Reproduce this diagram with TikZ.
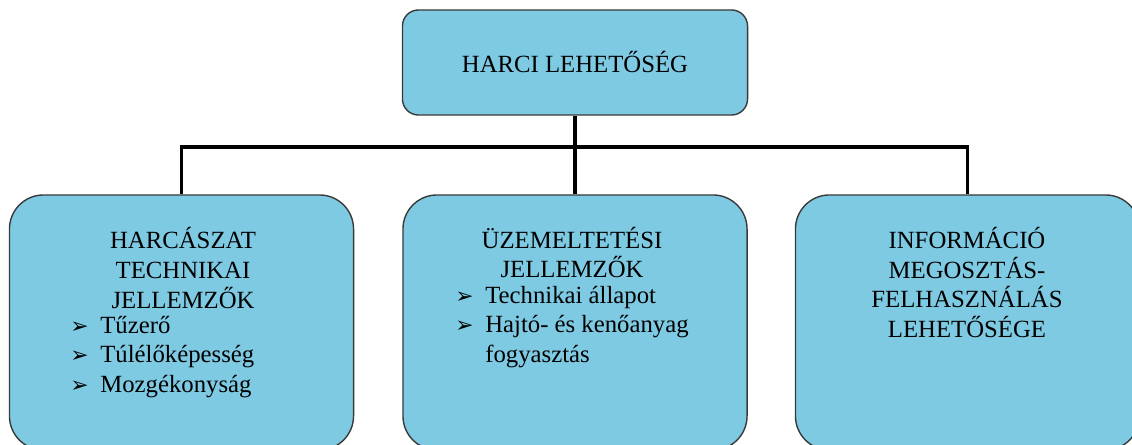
\documentclass[tikz,border=0pt]{standalone}
\usepackage{fontspec}
\setmainfont{Liberation Serif}
\newfontfamily\arrowfont{DejaVu Sans}
\definecolor{boxblue}{HTML}{7FCAE3}
\definecolor{boxline}{HTML}{3A3A3A}
\newcommand{\arrbul}{\makebox[0.75cm][l]{\arrowfont\fontsize{15.5}{15.5}\selectfont ➢}}
\begin{document}
\begin{tikzpicture}[x=0.025cm,y=-0.025cm,
  txt/.style={font=\fontsize{17.6}{21.3}\selectfont, align=center, inner sep=0pt},
  topbox/.style={draw=boxline, line width=1pt, fill=boxblue, rounded corners=0.4cm,
    minimum width=8.625cm, minimum height=2.625cm, inner sep=0pt, txt},
  subbox/.style={draw=boxline, line width=1pt, fill=boxblue, rounded corners=0.85cm,
    minimum width=8.6cm, minimum height=6.375cm, inner sep=0pt},
  conn/.style={line width=2.8pt, black}]
\useasboundingbox (0,0) rectangle (1132,445);
\clip (0,0) rectangle (1132,445);
% boxes
\node[topbox] (harci) at (575,62.5) {HARCI LEHETŐSÉG};
\node[subbox] (harcaszat) at (181.5,322.5) {};
\node[subbox] (uzem) at (575,322.5) {};
\node[subbox] (info) at (967.5,322.5) {};
% texts
\node[txt] (harcaszathead) at (183,268) {HARCÁSZAT\\TECHNIKAI\\JELLEMZŐK};
\node[txt, anchor=west] (harcaszatlist) at (70,357)
{\begin{tabular}{@{}l@{}l@{}}
\arrbul & Tűzerő\\
\arrbul & Túlélőképesség\\
\arrbul & Mozgékonyság
\end{tabular}};
\node[txt] (uzemhead) at (572,252.5) {ÜZEMELTETÉSI\\JELLEMZŐK};
\node[txt, anchor=west] (uzemlist) at (455,327)
{\begin{tabular}{@{}l@{}l@{}}
\arrbul & Technikai állapot\\
\arrbul & Hajtó- és kenőanyag\\
 & fogyasztás
\end{tabular}};
\node[txt] (infohead) at (967,282.5) {INFORMÁCIÓ\\MEGOSZTÁS-\\FELHASZNÁLÁS\\LEHETŐSÉGE};
% connectors
\coordinate (bus) at (575,147);
\draw[conn] (harci.south) -- (uzem.north);
\draw[conn] (harcaszat.north) |- (bus) -| (info.north);
\end{tikzpicture}
\end{document}
